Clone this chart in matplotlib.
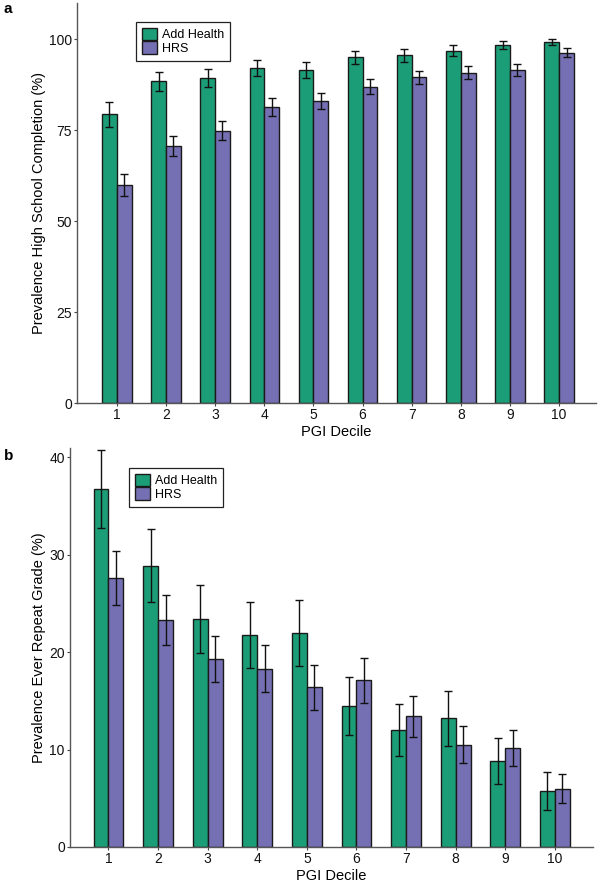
import numpy as np
import matplotlib.pyplot as plt

plt.rcParams['font.family'] = ['Liberation Sans', 'DejaVu Sans']

# -----------------------
# Data
# -----------------------
deciles = [1, 2, 3, 4, 5, 6, 7, 8, 9, 10]
cohorts = ["Add Health", "HRS"]

# panel a: high school completion (%)
hs_addhealth = [79.3, 88.4, 89.3, 92.0, 91.5, 95.0, 95.5, 96.8, 98.3, 99.2]
hs_addhealth_err = [3.4, 2.6, 2.6, 2.2, 2.3, 1.8, 1.8, 1.5, 1.1, 0.75]
hs_hrs = [59.9, 70.7, 74.8, 81.3, 83.0, 86.9, 89.5, 90.8, 91.5, 96.3]
hs_hrs_err = [3.0, 2.7, 2.6, 2.4, 2.3, 2.0, 1.8, 1.8, 1.7, 1.2]

# panel b: ever repeat grade (%)
rep_addhealth = [36.8, 28.9, 23.4, 21.8, 22.0, 14.5, 12.0, 13.2, 8.8, 5.8]
rep_addhealth_err = [4.0, 3.75, 3.5, 3.4, 3.4, 2.95, 2.7, 2.8, 2.35, 1.95]
rep_hrs = [27.6, 23.3, 19.3, 18.3, 16.4, 17.1, 13.4, 10.5, 10.2, 6.0]
rep_hrs_err = [2.75, 2.6, 2.4, 2.4, 2.3, 2.3, 2.1, 1.9, 1.85, 1.45]

colors = ["#1b9e77", "#7570b3"]
W, H = 600, 883


def panel(rect, vals, errs, ylim, yticks, ylabel, xlim, leg_anchor):
    ax = fig.add_axes(rect)
    x = np.array(deciles)
    w = 0.3
    for i, (v, e) in enumerate(zip(vals, errs)):
        pos = x + (i - 0.5) * w
        ax.bar(pos, v, width=w, color=colors[i], edgecolor="#1a1a1a",
               linewidth=1.0, label=cohorts[i], zorder=2)
        ax.errorbar(pos, v, yerr=e, fmt="none", ecolor="#111111",
                    elinewidth=1.0, capsize=3.2, capthick=1.0, zorder=3)
    ax.set_xlim(*xlim)
    ax.set_ylim(*ylim)
    ax.set_xticks(deciles)
    ax.set_yticks(yticks)
    ax.tick_params(labelsize=10, length=2.2, width=0.8, color="#444444",
                   labelcolor="#111111", pad=1.5)
    for s in ["top", "right"]:
        ax.spines[s].set_visible(False)
    for s in ["left", "bottom"]:
        ax.spines[s].set_color("#555555")
        ax.spines[s].set_linewidth(1.0)
    ax.set_xlabel("PGI Decile", fontsize=10.5, labelpad=2)
    ax.set_ylabel(ylabel, fontsize=10.5, labelpad=2)
    leg = ax.legend(loc="upper left", bbox_to_anchor=leg_anchor,
                    bbox_transform=fig.transFigure, fontsize=9,
                    fancybox=False, edgecolor="#222222", framealpha=1,
                    handlelength=1.2, handleheight=1.2, labelspacing=0,
                    handletextpad=0.45, borderpad=0.45, borderaxespad=0)
    leg.get_frame().set_linewidth(0.9)
    return ax


fig = plt.figure(figsize=(W / 100, H / 100), dpi=100)

# panel a
panel([77 / W, 1 - 403.3 / H, 519 / W, 400.7 / H],
      [hs_addhealth, hs_hrs], [hs_addhealth_err, hs_hrs_err],
      (0, 110), [0, 25, 50, 75, 100],
      "Prevalence High School Completion (%)", (0.19, 10.75),
      (136 / W, 1 - 22 / H))

# panel b
panel([70 / W, 1 - 847 / H, 523 / W, 399.3 / H],
      [rep_addhealth, rep_hrs], [rep_addhealth_err, rep_hrs_err],
      (0, 41), [0, 10, 20, 30, 40],
      "Prevalence Ever Repeat Grade (%)", (0.224, 10.77),
      (129 / W, 1 - 468 / H))

fig.text(4 / W, 1 - 13 / H, "a", fontsize=11, fontweight="bold")
fig.text(4 / W, 1 - 460 / H, "b", fontsize=11, fontweight="bold")

plt.savefig("out.png", dpi=100)
